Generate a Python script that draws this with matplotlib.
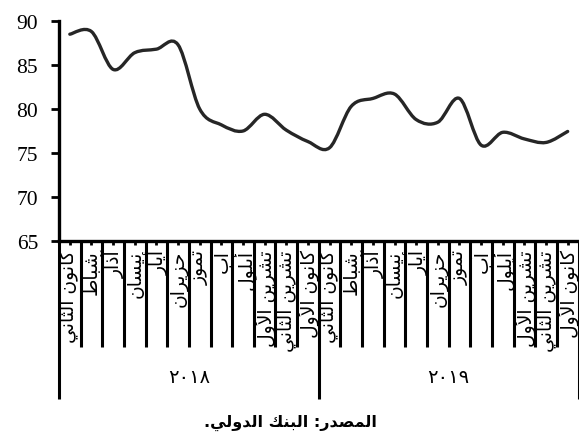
import matplotlib
matplotlib.use("Agg")
import matplotlib.pyplot as plt
from matplotlib.path import Path
from matplotlib.patches import PathPatch
import matplotlib.transforms as mtransforms

# ---------------- data ----------------
months = ["كانون الثاني", "شباط", "آذار", "نيسان", "أيار", "حزيران", "تموز",
          "آب", "أيلول", "تشرين الأول", "تشرين الثاني", "كانون الأول"]
years = ["٢٠١٨", "٢٠١٩"]
values = [88.5, 88.8, 84.5, 86.4, 86.8, 87.3, 80.0, 78.2, 77.5, 79.4, 77.6, 76.3,
          75.6, 80.3, 81.2, 81.7, 78.8, 78.5, 81.2, 75.9, 77.35, 76.6, 76.2, 77.45]
yticks = [65, 70, 75, 80, 85, 90]
source = "المصدر: البنك الدولي."

# ---------------- simple Arabic shaping (presentation forms) ----------------
_dual = {'ب': 0xFE8F, 'ت': 0xFE95, 'ث': 0xFE99, 'ج': 0xFE9D, 'ح': 0xFEA1, 'خ': 0xFEA5,
         'س': 0xFEB1, 'ش': 0xFEB5, 'ص': 0xFEB9, 'ض': 0xFEBD, 'ط': 0xFEC1, 'ظ': 0xFEC5,
         'ع': 0xFEC9, 'غ': 0xFECD, 'ف': 0xFED1, 'ق': 0xFED5, 'ك': 0xFED9, 'ل': 0xFEDD,
         'م': 0xFEE1, 'ن': 0xFEE5, 'ه': 0xFEE9, 'ي': 0xFEF1}
_right = {'آ': 0xFE81, 'أ': 0xFE83, 'إ': 0xFE87, 'ا': 0xFE8D, 'ة': 0xFE93, 'د': 0xFEA9,
          'ذ': 0xFEAB, 'ر': 0xFEAD, 'ز': 0xFEAF, 'و': 0xFEED, 'ى': 0xFEEF}
_lamalef = {'آ': 0xFEF5, 'أ': 0xFEF7, 'إ': 0xFEF9, 'ا': 0xFEFB}


def shape(text):
    toks = []
    i = 0
    while i < len(text):
        c = text[i]
        if c == 'ل' and i + 1 < len(text) and text[i + 1] in _lamalef:
            toks.append(('LA', text[i + 1]))
            i += 2
        else:
            toks.append(('C', c))
            i += 1

    def is_letter(t):
        return t[0] == 'LA' or t[1] in _dual or t[1] in _right

    def joins_left(t):
        return t[0] == 'C' and t[1] in _dual

    out = []
    for k, t in enumerate(toks):
        prev = toks[k - 1] if k > 0 else None
        nxt = toks[k + 1] if k + 1 < len(toks) else None
        jp = prev is not None and joins_left(prev)
        if t[0] == 'LA':
            out.append(chr(_lamalef[t[1]] + (1 if jp else 0)))
            continue
        c = t[1]
        if c in _dual:
            jn = nxt is not None and is_letter(nxt)
            base = _dual[c]
            if jp and jn:
                out.append(chr(base + 3))
            elif jn:
                out.append(chr(base + 2))
            elif jp:
                out.append(chr(base + 1))
            else:
                out.append(chr(base))
        elif c in _right:
            out.append(chr(_right[c] + (1 if jp else 0)))
        else:
            out.append(c)
    return ''.join(out)[::-1]


# ---------------- figure ----------------
W, H = 579, 439
fig = plt.figure(figsize=(W / 100, H / 100), dpi=100)
left, right, top, bottom = 59, 578.5, 22, 242
ax = fig.add_axes([left / W, 1 - bottom / H, (right - left) / W, (bottom - top) / H])

labels = [shape(m) for m in months] * 2
n = len(values)
xs = list(range(n))

# smoothed line (Excel-style cardinal spline through the points)
pts = list(zip(xs, values))
verts = [pts[0]]
codes = [Path.MOVETO]
for i in range(n - 1):
    p0 = pts[i - 1] if i > 0 else pts[i]
    p1 = pts[i]
    p2 = pts[i + 1]
    p3 = pts[i + 2] if i + 2 < n else pts[i + 1]
    c1 = (p1[0] + (p2[0] - p0[0]) / 6, p1[1] + (p2[1] - p0[1]) / 6)
    c2 = (p2[0] - (p3[0] - p1[0]) / 6, p2[1] - (p3[1] - p1[1]) / 6)
    verts += [c1, c2, p2]
    codes += [Path.CURVE4] * 3
ax.add_patch(PathPatch(Path(verts, codes), fill=False, edgecolor="#262626",
                       lw=2.4, capstyle="round", joinstyle="round"))

ax.set_xlim(-0.5, n - 0.5)
ax.set_ylim(65, 90)
ax.set_yticks(yticks)
ax.set_yticklabels([str(v) for v in yticks], fontfamily="Liberation Serif", fontsize=15.5)
ax.tick_params(axis="y", direction="out", length=6, width=2, pad=9, colors="black")
ax.set_xticks(xs)
ax.set_xticklabels(labels, rotation=90, fontfamily="DejaVu Sans", fontsize=13.5,
                   va="top", ha="center")
ax.tick_params(axis="x", direction="out", length=3, width=2, pad=3)

for s in ["top", "right"]:
    ax.spines[s].set_visible(False)
for s in ["left", "bottom"]:
    ax.spines[s].set_linewidth(2.4)
    ax.spines[s].set_color("black")

trans = mtransforms.blended_transform_factory(ax.transData, ax.transAxes)
px = 1 / (bottom - top)
month_end = -(348 - bottom) * px
year_end = -(400 - bottom) * px
for b in range(n + 1):
    xb = b - 0.5
    yend = year_end if b % 12 == 0 else month_end
    ax.plot([xb, xb], [0, yend], transform=trans, color="black", lw=2.2,
            clip_on=False, solid_capstyle="butt")

for k, yr in enumerate(years):
    ax.text(5.5 + 12 * k, -(378 - bottom) * px, yr, transform=trans,
            ha="center", va="center", fontsize=14, fontfamily="DejaVu Sans")

fig.text(290 / W, 1 - 423 / H, shape(source), ha="center", va="center",
         fontsize=11.5, fontweight="bold", fontfamily="DejaVu Sans")

fig.savefig("out.png", dpi=100, facecolor="white")
